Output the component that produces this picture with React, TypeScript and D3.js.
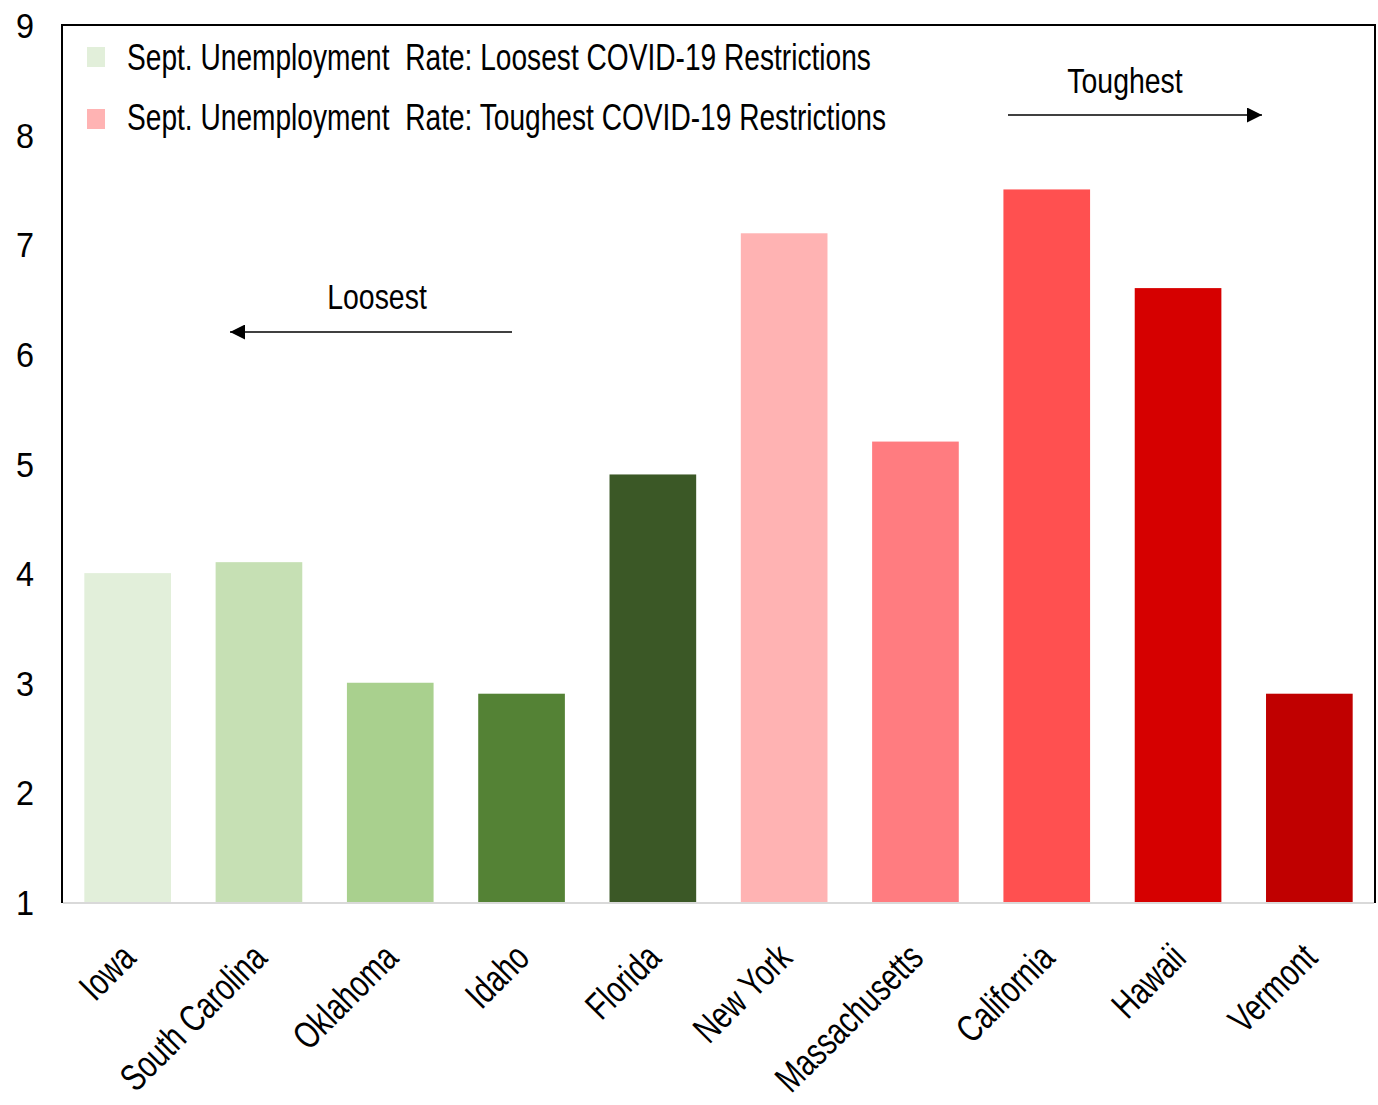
import React, { useEffect, useRef } from "react";
import * as d3 from "d3";

// September unemployment rate by state, ordered from loosest to toughest COVID-19 restrictions
const states = [
  "Iowa",
  "South Carolina",
  "Oklahoma",
  "Idaho",
  "Florida",
  "New York",
  "Massachusetts",
  "California",
  "Hawaii",
  "Vermont",
];
const rates = [4.0, 4.1, 3.0, 2.9, 4.9, 7.1, 5.2, 7.5, 6.6, 2.9];
const barColors = [
  "#e2efda",
  "#c6e0b4",
  "#a9d08e",
  "#548235",
  "#3b5826",
  "#ffb3b3",
  "#ff7c80",
  "#ff5050",
  "#d60000",
  "#c00000",
];
const yTicks = [1, 2, 3, 4, 5, 6, 7, 8, 9];
const legendLabels = [
  "Sept. Unemployment  Rate: Loosest COVID-19 Restrictions",
  "Sept. Unemployment  Rate: Toughest COVID-19 Restrictions",
];
const legendColors = ["#e2efda", "#ffb3b3"];

const W = 1378;
const H = 1105;
const FONT = "'Liberation Sans', Arial, sans-serif";
// condensed look: text is squeezed horizontally
const SQUEEZE = 0.79;

export default function App() {
  const ref = useRef<SVGSVGElement>(null);

  useEffect(() => {
    const svg = d3.select(ref.current);
    svg.selectAll("*").remove();

    const left = 62;
    const right = 1375;
    const top = 25;
    const bottom = 902;

    const x = d3
      .scaleBand<string>()
      .domain(states)
      .range([left, right])
      .paddingInner(0.34)
      .paddingOuter(0.17);
    const y = d3.scaleLinear().domain([1, 9]).range([bottom, top]);

    svg
      .append("defs")
      .append("marker")
      .attr("id", "arrowhead")
      .attr("viewBox", "0 0 10 10")
      .attr("refX", 10)
      .attr("refY", 5)
      .attr("markerWidth", 16)
      .attr("markerHeight", 15)
      .attr("markerUnits", "userSpaceOnUse")
      .attr("orient", "auto")
      .append("path")
      .attr("d", "M0,0 L10,5 L0,10 Z")
      .attr("fill", "#000");

    // bars
    svg
      .append("g")
      .selectAll("rect")
      .data(states)
      .join("rect")
      .attr("x", (d) => x(d)!)
      .attr("width", x.bandwidth())
      .attr("y", (_, i) => y(rates[i]))
      .attr("height", (_, i) => y(1) - y(rates[i]))
      .attr("fill", (_, i) => barColors[i]);

    // frame: black on three sides, light grey category axis at the bottom
    svg
      .append("path")
      .attr("d", `M${left},${bottom + 1} V${top} H${right} V${bottom + 1}`)
      .attr("fill", "none")
      .attr("stroke", "#000")
      .attr("stroke-width", 2);
    svg
      .append("line")
      .attr("x1", left + 1)
      .attr("x2", right - 1)
      .attr("y1", bottom + 1)
      .attr("y2", bottom + 1)
      .attr("stroke", "#d9d9d9")
      .attr("stroke-width", 2);

    // y tick labels
    svg
      .append("g")
      .selectAll("text")
      .data(yTicks)
      .join("text")
      .attr("transform", (d) => `translate(34,${y(d) + 13}) scale(0.9,1)`)
      .attr("text-anchor", "end")
      .attr("font-family", FONT)
      .attr("font-size", 36)
      .attr("fill", "#000")
      .text((d) => d);

    // rotated category labels
    svg
      .append("g")
      .selectAll("text")
      .data(states)
      .join("text")
      .attr("transform", (d) => {
        const cx = x(d)! + x.bandwidth() / 2 + 10;
        return `translate(${cx},${bottom + 58}) rotate(-45) scale(0.75,1)`;
      })
      .attr("text-anchor", "end")
      .attr("font-family", FONT)
      .attr("font-size", 38)
      .attr("fill", "#000")
      .text((d) => d);

    // legend
    const lg = svg.append("g");
    legendLabels.forEach((label, i) => {
      const ly = 57 + i * 62;
      lg.append("rect")
        .attr("x", 87)
        .attr("y", ly - 10)
        .attr("width", 18)
        .attr("height", 20)
        .attr("fill", legendColors[i]);
      lg.append("text")
        .attr("transform", `translate(127,${ly + 13 - i * 2}) scale(0.76,1)`)
        .attr("font-family", FONT)
        .attr("font-size", 37)
        .attr("fill", "#000")
        .attr("xml:space", "preserve")
        .style("white-space", "pre")
        .text(label);
    });

    // direction annotations
    const ann = svg.append("g");
    ann
      .append("text")
      .attr("transform", `translate(377,309) scale(${SQUEEZE},1)`)
      .attr("text-anchor", "middle")
      .attr("font-family", FONT)
      .attr("font-size", 36)
      .text("Loosest");
    ann
      .append("line")
      .attr("x1", 512)
      .attr("x2", 230)
      .attr("y1", 332)
      .attr("y2", 332)
      .attr("stroke", "#000")
      .attr("stroke-width", 1.5)
      .attr("marker-end", "url(#arrowhead)");
    ann
      .append("text")
      .attr("transform", `translate(1125,93) scale(${SQUEEZE},1)`)
      .attr("text-anchor", "middle")
      .attr("font-family", FONT)
      .attr("font-size", 36)
      .text("Toughest");
    ann
      .append("line")
      .attr("x1", 1008)
      .attr("x2", 1262)
      .attr("y1", 115)
      .attr("y2", 115)
      .attr("stroke", "#000")
      .attr("stroke-width", 1.5)
      .attr("marker-end", "url(#arrowhead)");
  }, []);

  return (
    <svg
      ref={ref}
      width={W}
      height={H}
      style={{ position: "absolute", left: 0, top: 0, background: "#fff" }}
    />
  );
}
